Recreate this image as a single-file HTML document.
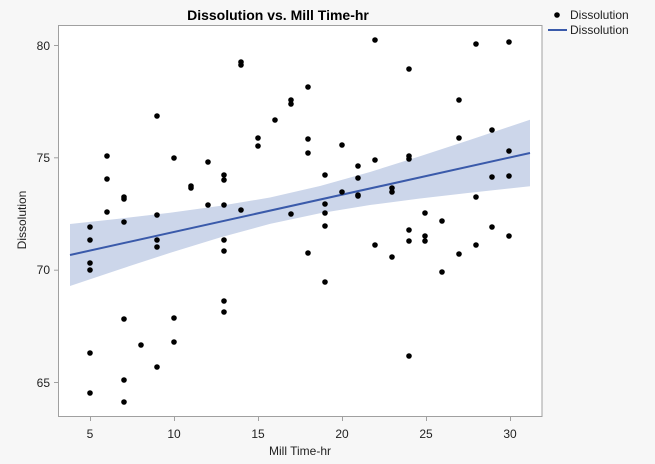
<!DOCTYPE html>
<html><head><style>
body{margin:0;background:#f7f7f7;}
svg{display:block;font-family:"Liberation Sans",sans-serif;}
</style></head><body>
<svg width="655" height="464" viewBox="0 0 655 464">
<rect width="655" height="464" fill="#f7f7f7"/>
<rect x="58.5" y="25.5" width="483.5" height="391" fill="#fff" stroke="#a0a0a0" stroke-width="1"/>
<text x="278" y="20" font-size="14" font-weight="bold" text-anchor="middle">Dissolution vs. Mill Time-hr</text>
<path d="M70,224 L120,218.6 L170,212.7 L220,205.9 L270,197.5 L320,186 L370,172 L420,156.3 L470,139.9 L530,119.7 L530,186.3 L470,192.7 L420,198.5 L370,205 L320,213.2 L270,223.9 L220,237.5 L170,252.9 L120,269.2 L70,286 Z" fill="#ccd6ea"/>
<line x1="70" y1="255" x2="530" y2="153" stroke="#3a5aaa" stroke-width="2"/>
<g fill="#000">
<circle cx="90" cy="227" r="2.8"/><circle cx="90" cy="240" r="2.8"/><circle cx="90" cy="263" r="2.8"/><circle cx="90" cy="270" r="2.8"/><circle cx="90" cy="353" r="2.8"/><circle cx="90" cy="393" r="2.8"/>
<circle cx="107" cy="156" r="2.8"/><circle cx="107" cy="179" r="2.8"/><circle cx="107" cy="212" r="2.8"/>
<circle cx="124" cy="197" r="2.8"/><circle cx="124" cy="199" r="2.8"/><circle cx="124" cy="222" r="2.8"/><circle cx="124" cy="319" r="2.8"/><circle cx="124" cy="380" r="2.8"/><circle cx="124" cy="402" r="2.8"/>
<circle cx="141" cy="345" r="2.8"/>
<circle cx="157" cy="116" r="2.8"/><circle cx="157" cy="215" r="2.8"/><circle cx="157" cy="240" r="2.8"/><circle cx="157" cy="247" r="2.8"/><circle cx="157" cy="367" r="2.8"/>
<circle cx="174" cy="158" r="2.8"/><circle cx="174" cy="318" r="2.8"/><circle cx="174" cy="342" r="2.8"/>
<circle cx="191" cy="186" r="2.8"/><circle cx="191" cy="188" r="2.8"/>
<circle cx="208" cy="162" r="2.8"/><circle cx="208" cy="205" r="2.8"/>
<circle cx="224" cy="175" r="2.8"/><circle cx="224" cy="180" r="2.8"/><circle cx="224" cy="205" r="2.8"/><circle cx="224" cy="240" r="2.8"/><circle cx="224" cy="251" r="2.8"/><circle cx="224" cy="301" r="2.8"/><circle cx="224" cy="312" r="2.8"/>
<circle cx="241" cy="62" r="2.8"/><circle cx="241" cy="65" r="2.8"/><circle cx="241" cy="210" r="2.8"/>
<circle cx="258" cy="138" r="2.8"/><circle cx="258" cy="146" r="2.8"/>
<circle cx="275" cy="120" r="2.8"/>
<circle cx="291" cy="100" r="2.8"/><circle cx="291" cy="104" r="2.8"/><circle cx="291" cy="214" r="2.8"/>
<circle cx="308" cy="87" r="2.8"/><circle cx="308" cy="139" r="2.8"/><circle cx="308" cy="153" r="2.8"/><circle cx="308" cy="253" r="2.8"/>
<circle cx="325" cy="175" r="2.8"/><circle cx="325" cy="204" r="2.8"/><circle cx="325" cy="213" r="2.8"/><circle cx="325" cy="226" r="2.8"/><circle cx="325" cy="282" r="2.8"/>
<circle cx="342" cy="145" r="2.8"/><circle cx="342" cy="192" r="2.8"/>
<circle cx="358" cy="166" r="2.8"/><circle cx="358" cy="178" r="2.8"/><circle cx="358" cy="195" r="2.8"/><circle cx="358" cy="196" r="2.8"/>
<circle cx="375" cy="40" r="2.8"/><circle cx="375" cy="160" r="2.8"/><circle cx="375" cy="245" r="2.8"/>
<circle cx="392" cy="188" r="2.8"/><circle cx="392" cy="192" r="2.8"/><circle cx="392" cy="257" r="2.8"/>
<circle cx="409" cy="69" r="2.8"/><circle cx="409" cy="156" r="2.8"/><circle cx="409" cy="159" r="2.8"/><circle cx="409" cy="230" r="2.8"/><circle cx="409" cy="241" r="2.8"/><circle cx="409" cy="356" r="2.8"/>
<circle cx="425" cy="213" r="2.8"/><circle cx="425" cy="236" r="2.8"/><circle cx="425" cy="241" r="2.8"/>
<circle cx="442" cy="221" r="2.8"/><circle cx="442" cy="272" r="2.8"/>
<circle cx="459" cy="100" r="2.8"/><circle cx="459" cy="138" r="2.8"/><circle cx="459" cy="254" r="2.8"/>
<circle cx="476" cy="44" r="2.8"/><circle cx="476" cy="197" r="2.8"/><circle cx="476" cy="245" r="2.8"/>
<circle cx="492" cy="130" r="2.8"/><circle cx="492" cy="177" r="2.8"/><circle cx="492" cy="227" r="2.8"/>
<circle cx="509" cy="42" r="2.8"/><circle cx="509" cy="151" r="2.8"/><circle cx="509" cy="176" r="2.8"/><circle cx="509" cy="236" r="2.8"/>
</g>
<g stroke="#a0a0a0" stroke-width="1">
<line x1="54" y1="45.5" x2="58.5" y2="45.5"/><line x1="54" y1="157.8" x2="58.5" y2="157.8"/><line x1="54" y1="270.2" x2="58.5" y2="270.2"/><line x1="54" y1="382.5" x2="58.5" y2="382.5"/>
<line x1="90.5" y1="417" x2="90.5" y2="421"/><line x1="174.5" y1="417" x2="174.5" y2="421"/><line x1="258.5" y1="417" x2="258.5" y2="421"/><line x1="342.5" y1="417" x2="342.5" y2="421"/><line x1="426.5" y1="417" x2="426.5" y2="421"/><line x1="510.5" y1="417" x2="510.5" y2="421"/>
</g>
<g font-size="12" fill="#222" text-anchor="end">
<text x="50" y="50">80</text><text x="50" y="162">75</text><text x="50" y="274">70</text><text x="50" y="387">65</text>
</g>
<g font-size="12" fill="#222" text-anchor="middle">
<text x="90" y="438">5</text><text x="174" y="438">10</text><text x="258" y="438">15</text><text x="342" y="438">20</text><text x="426" y="438">25</text><text x="510" y="438">30</text>
<text x="300" y="455">Mill Time-hr</text>
<text transform="translate(26,220) rotate(-90)">Dissolution</text>
</g>
<circle cx="557" cy="15" r="2.8" fill="#000"/>
<line x1="548" y1="30" x2="567" y2="30" stroke="#3a5aaa" stroke-width="2"/>
<g font-size="12" fill="#222"><text x="570" y="19">Dissolution</text><text x="570" y="34">Dissolution</text></g>
</svg>
</body></html>
